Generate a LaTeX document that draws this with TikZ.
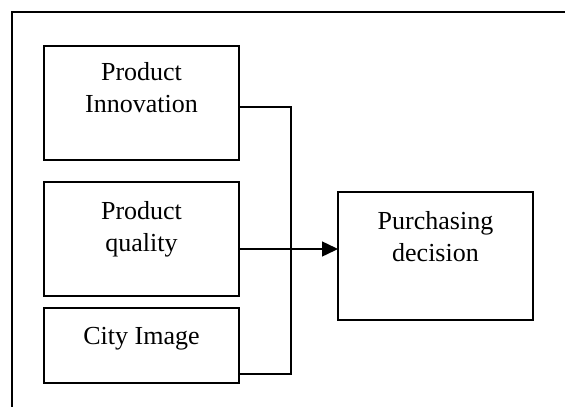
\documentclass[tikz,border=0pt]{standalone}
\usepackage{fontspec}
\setmainfont{Liberation Serif}
\usetikzlibrary{arrows.meta}
\begin{document}
\begin{tikzpicture}[x=1pt,y=-1pt,
  box/.style={draw,line width=1.7pt,minimum width=195pt,inner sep=0pt,outer sep=0pt},
  lbl/.style={font=\fontsize{26}{32}\selectfont,align=center,anchor=north,inner sep=0pt},
  wire/.style={line width=1.5pt},
  frame/.style={line width=1.7pt}]
\useasboundingbox (0,0) rectangle (565,407);
% outer frame, open to the right and bottom
\draw[frame] (12,407) -- (12,12) -- (565,12);

% boxes
\node[box,minimum height=114pt] (b1) at (141.5,103) {};
\node[box,minimum height=114pt] (b2) at (141.5,239) {};
\node[box,minimum height=75pt]  (b3) at (141.5,345.5) {};
\node[box,minimum height=128pt] (b4) at (435.5,256) {};

% box texts
\node[lbl] (t1) at (141.5,62) {Product\\Innovation};
\node[lbl] (t2) at (141.5,201) {Product\\quality};
\node[lbl] (t3) at (141.5,327) {City Image};
\node[lbl] (t4) at (435.5,211) {Purchasing\\decision};

% connectors
\coordinate (o1) at ([yshift=-4pt]b1.east);
\coordinate (o2) at ([yshift=-10pt]b2.east);
\coordinate (o3) at ([yshift=-28.5pt]b3.east);
\coordinate (in4) at ([yshift=7pt]b4.west);
\coordinate (jx) at (291,0);

\draw[wire] (o1) -- (o1 -| jx) -- (o3 -| jx) -- (o3);
\draw[wire] (o2) -- (o2 -| jx);
\draw[wire,-{Triangle[length=16pt,width=15pt]}] (o2 -| jx) -- (in4);
\end{tikzpicture}
\end{document}
